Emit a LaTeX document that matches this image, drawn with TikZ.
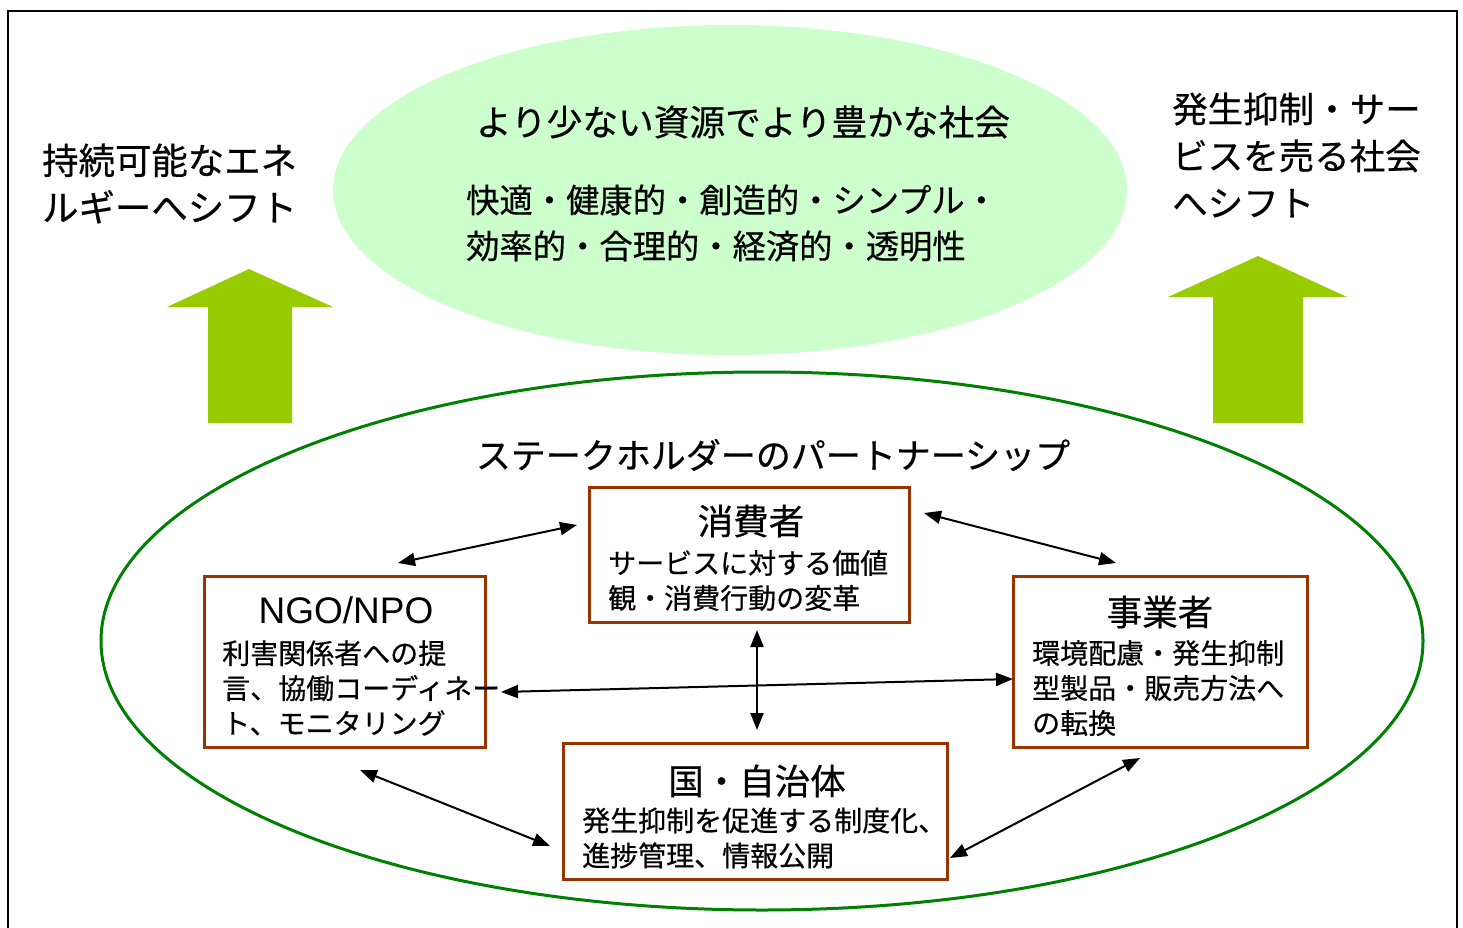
\documentclass[tikz,border=0pt]{standalone}
\usepackage{fontspec}
\setmainfont{Noto Sans CJK JP}[FakeBold=0.5]
\newfontfamily\arialf{Liberation Sans}
\usetikzlibrary{arrows.meta,shapes.geometric}
\definecolor{lgreen}{HTML}{CCFFCC}
\definecolor{agreen}{HTML}{99CC00}
\definecolor{egreen}{HTML}{008000}
\definecolor{bbrown}{HTML}{993300}
\tikzset{
  actor/.style={draw=bbrown, line width=3pt, rectangle, inner sep=0pt},
  ttl/.style={font=\fontsize{35.5}{42}\selectfont, inner sep=0pt},
  body/.style={font=\fontsize{28}{35}\selectfont, align=left, inner sep=0pt, anchor=west},
  big/.style={font=\fontsize{36.4}{47}\selectfont, align=left, inner sep=0pt, anchor=west},
  link/.style={line width=2pt, {Triangle[length=17pt,width=13pt]}-{Triangle[length=17pt,width=13pt]}},
  uparrow/.style={fill=agreen}
}
\begin{document}
\begin{tikzpicture}[x=1pt,y=-1pt]
\useasboundingbox (0,0) rectangle (1463,928);
% frame
\draw[line width=2pt] (8,928) -- (8,11) -- (1457,11) -- (1457,928);
% top ellipse
\node[ellipse, fill=lgreen, minimum width=794pt, minimum height=330pt, inner sep=0pt] (goal) at (730,190) {};
\node[font=\fontsize{35.7}{42}\selectfont, inner sep=0pt] (goaltitle) at (743,122) {より少ない資源でより豊かな社会};
\node[font=\fontsize{33.3}{46}\selectfont, align=left, inner sep=0pt, anchor=west] (goalbody) at (466,223) {快適・健康的・創造的・シンプル・\\効率的・合理的・経済的・透明性};
% side texts
\node[big] (lefttext) at (42,183.5) {持続可能なエネ\\ルギーへシフト};
\node[big, font=\fontsize{35.5}{47}\selectfont] (righttext) at (1172,155) {発生抑制・サー\\ビスを売る社会\\へシフト};
% green arrows
\fill[uparrow] (208,423) -- (208,307) -- (167,307) -- (249,269) -- (333,307) -- (292,307) -- (292,423) -- cycle;
\fill[uparrow] (1213,423) -- (1213,297) -- (1168,297) -- (1258,256) -- (1347,297) -- (1303,297) -- (1303,423) -- cycle;
% big ellipse
\node[ellipse, draw=egreen, line width=3pt, minimum width=1322pt, minimum height=538pt, inner sep=0pt] (partner) at (762,641) {};
\node[font=\fontsize{35}{40}\selectfont, inner sep=0pt] (partnertitle) at (773,455) {ステークホルダーのパートナーシップ};
% boxes
\node[actor, minimum width=320pt, minimum height=135pt] (cons) at (749,554.5) {};
\node[ttl] (constitle) at (751,521) {消費者};
\node[body] (consbody) at (608,580.5) {サービスに対する価値\\観・消費行動の変革};

\node[actor, minimum width=281pt, minimum height=171pt] (ngo) at (344.5,661.5) {};
\node[ttl, font=\arialf\fontsize{37}{42}\selectfont] (ngotitle) at (346,610) {NGO/NPO};
\node[body] (ngobody) at (222,688) {利害関係者への提\\言、協働コーディネー\\ト、モニタリング};

\node[actor, minimum width=294pt, minimum height=171pt] (biz) at (1160,661.5) {};
\node[ttl] (biztitle) at (1160,612) {事業者};
\node[body] (bizbody) at (1032,688) {環境配慮・発生抑制\\型製品・販売方法へ\\の転換};

\node[actor, minimum width=384pt, minimum height=136pt] (gov) at (755,811) {};
\node[ttl] (govtitle) at (757,781) {国・自治体};
\node[body] (govbody) at (582,838) {発生抑制を促進する制度化、\\進捗管理、情報公開};
% connector ends
\coordinate (c1a) at (398,563); \coordinate (c1b) at (577,525);
\coordinate (c2a) at (924,513); \coordinate (c2b) at (1116,563);
\coordinate (c3a) at (757,630); \coordinate (c3b) at (757,730);
\coordinate (c4a) at (501,692); \coordinate (c4b) at (1013,679);
\coordinate (c5a) at (360,770); \coordinate (c5b) at (550,846);
\coordinate (c6a) at (1140,758); \coordinate (c6b) at (950,858);
\draw[link] (c1a) -- (c1b);
\draw[link] (c2a) -- (c2b);
\draw[link] (c3a) -- (c3b);
\draw[link] (c4a) -- (c4b);
\draw[link] (c5a) -- (c5b);
\draw[link] (c6a) -- (c6b);
\end{tikzpicture}
\end{document}
